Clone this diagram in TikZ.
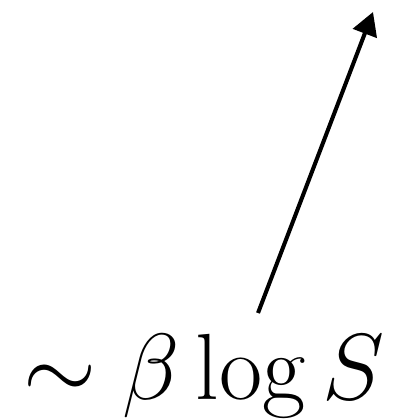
\documentclass[tikz,border=0pt]{standalone}
\usepackage{fix-cm}
\usepackage{tikz}
\usetikzlibrary{arrows.meta, positioning}

\begin{document}
\begin{tikzpicture}
            \useasboundingbox (0,0) rectangle (7.96,8.38);
            
            % Scaling label
            \node[anchor=base, inner sep=0pt] (scaling) at (4.08,0.38) {\fontsize{53.5}{62}\selectfont $\sim \beta \log S$};
            
            % Arrow
            \coordinate (start) at (5.16,2.12);
            \coordinate (tip) at (7.46,8.14);
            \draw[-{Triangle[length=0.46cm, width=0.5cm]}, line width=2.3pt] (start) -- (tip);
        \end{tikzpicture}
\end{document}
